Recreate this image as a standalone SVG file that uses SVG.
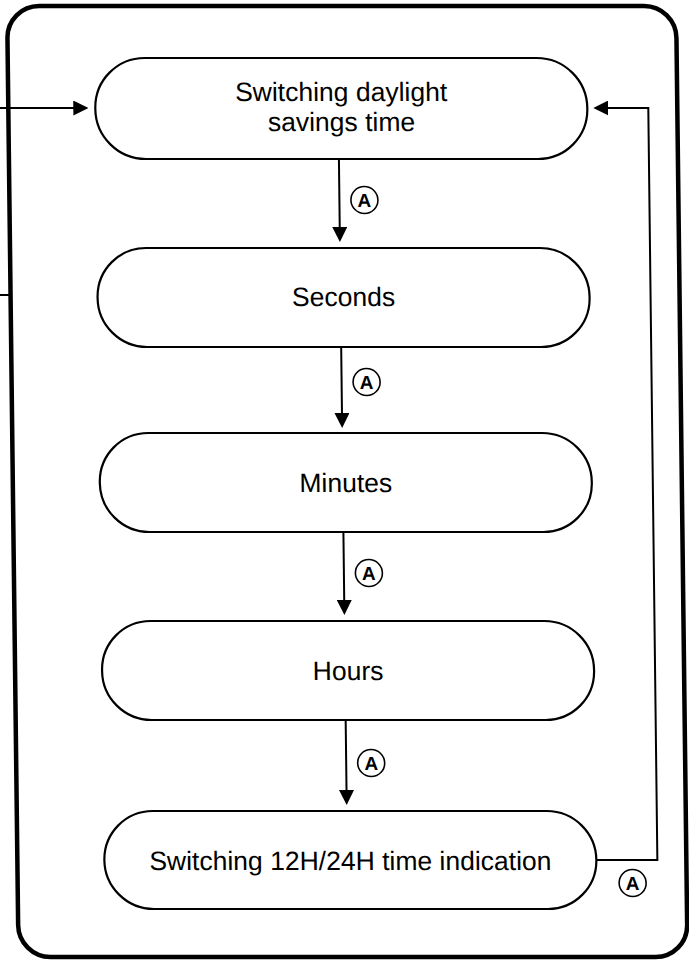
<svg xmlns="http://www.w3.org/2000/svg" width="689" height="964" viewBox="0 0 689 964">
  <style>
    .frame { fill: none; stroke: #000; stroke-width: 4.5; }
    .node rect { fill: #fff; stroke: #000; stroke-width: 2.2; }
    .node text { font-family: "Liberation Sans", Arial, sans-serif; font-size: 26.5px; fill: #000; text-anchor: middle; }
    .conn line, .conn polyline { fill: none; stroke: #000; stroke-width: 2; }
    .lbl circle { fill: #fff; stroke: #000; stroke-width: 1.6; }
    .lbl text { font-family: "Liberation Sans", Arial, sans-serif; font-size: 19px; font-weight: bold; fill: #000; text-anchor: middle; }
  </style>
  <defs>
    <marker id="ah" viewBox="0 0 15 15" refX="12" refY="7.5" markerWidth="15" markerHeight="15" markerUnits="userSpaceOnUse" orient="auto">
      <path d="M0,0 L15,7.5 L0,15 z" fill="#000"/>
    </marker>
  </defs>
  <rect width="689" height="964" fill="#fff"/>
  <g transform="skewX(0.69)">
    <rect class="frame" x="7" y="6" width="669" height="951" rx="32" ry="32"/>

    <g class="conn" id="connectors">
      <line x1="-10" y1="108" x2="84" y2="108" marker-end="url(#ah)"/>
      <line x1="-10" y1="295" x2="7" y2="295"/>
      <line x1="337" y1="159" x2="337" y2="239" marker-end="url(#ah)"/>
      <line x1="337" y1="347" x2="337" y2="425" marker-end="url(#ah)"/>
      <line x1="337" y1="532" x2="337" y2="612" marker-end="url(#ah)"/>
      <line x1="337" y1="720" x2="337" y2="802" marker-end="url(#ah)"/>
      <polyline points="586,860 647,860 647,108 595,108" marker-end="url(#ah)"/>
    </g>

    <g class="lbl" id="labels">
      <g id="label1"><circle cx="362" cy="200" r="13.5"/><text x="362" y="207">A</text></g>
      <g id="label2"><circle cx="362" cy="382" r="13.5"/><text x="362" y="389">A</text></g>
      <g id="label3"><circle cx="362" cy="573" r="13.5"/><text x="362" y="580">A</text></g>
      <g id="label4"><circle cx="362" cy="763" r="13.5"/><text x="362" y="770">A</text></g>
      <g id="label5"><circle cx="622" cy="883" r="13.5"/><text x="622" y="890">A</text></g>
    </g>

    <g class="node" id="node-dst">
      <rect x="94" y="58" width="492" height="101" rx="50" ry="50"/>
      <text x="340" y="101">Switching daylight</text>
      <text x="340" y="131">savings time</text>
    </g>
    <g class="node" id="node-seconds">
      <rect x="94" y="248" width="492" height="99" rx="49" ry="49"/>
      <text x="340" y="306">Seconds</text>
    </g>
    <g class="node" id="node-minutes">
      <rect x="94" y="433" width="492" height="99" rx="49" ry="49"/>
      <text x="340" y="492">Minutes</text>
    </g>
    <g class="node" id="node-hours">
      <rect x="94" y="621" width="492" height="99" rx="49" ry="49"/>
      <text x="340" y="680">Hours</text>
    </g>
    <g class="node" id="node-1224">
      <rect x="94" y="811" width="492" height="98" rx="49" ry="49"/>
      <text x="340" y="870">Switching 12H/24H time indication</text>
    </g>
  </g>
</svg>
